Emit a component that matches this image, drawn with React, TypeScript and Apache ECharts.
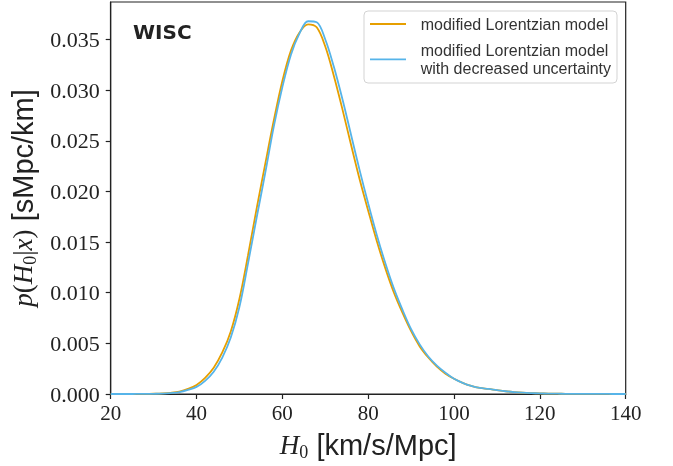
import React, { useEffect, useRef } from "react";
import * as echarts from "echarts";

const xValues = [
  20, 22, 24, 26, 28, 30, 32, 34, 36, 38, 40, 42, 44, 46, 48, 50, 52, 54, 56, 58,
  60, 62, 64, 66, 68, 70, 72, 74, 76, 78, 80, 82, 84, 86, 88, 90, 92, 94, 96, 98,
  100, 102, 104, 106, 108, 110, 112, 114, 116, 118, 120, 122, 124, 126, 128, 130,
  132, 134, 136, 138, 140,
];

const lorentzianValues = [
  0, 0, 0, 0.000005, 0.00001, 0.00003, 0.00006, 0.00012, 0.00024, 0.0005, 0.0009,
  0.0016, 0.0026, 0.0041, 0.0062, 0.0094, 0.0137, 0.0183, 0.0227, 0.027, 0.0309,
  0.0339, 0.0357, 0.0365, 0.0362, 0.0343, 0.0314, 0.0281, 0.0246, 0.0212, 0.0181,
  0.0151, 0.0124, 0.01, 0.008, 0.0062, 0.0047, 0.0036, 0.0027, 0.002, 0.0015,
  0.0011, 0.0008, 0.0006, 0.0005, 0.00038, 0.00027, 0.00019, 0.00013, 0.00009,
  0.00006, 0.00004, 0.00003, 0.00002, 0.000015, 0.00001, 0.000007, 0.000005,
  0.000003, 0.000002, 0.000001,
];

const decreasedValues = [
  0, 0, 0, 0.000003, 0.000006, 0.00002, 0.00004, 0.00009, 0.00018, 0.0004, 0.0007,
  0.0013, 0.0022, 0.0036, 0.0056, 0.0086, 0.0129, 0.0174, 0.0218, 0.0264, 0.0303,
  0.0335, 0.0356, 0.0368, 0.0367, 0.035, 0.0323, 0.0291, 0.0256, 0.0221, 0.0188,
  0.0157, 0.0129, 0.0104, 0.0083, 0.0064, 0.0049, 0.0037, 0.0028, 0.0021, 0.0015,
  0.0011, 0.0008, 0.0006, 0.0005, 0.00038, 0.00027, 0.00019, 0.00013, 0.00009,
  0.00006, 0.00004, 0.00003, 0.00002, 0.000015, 0.00001, 0.000007, 0.000005,
  0.000003, 0.000002, 0.000001,
];

const yTicks = [0, 0.005, 0.01, 0.015, 0.02, 0.025, 0.03, 0.035];
const xTicks = [20, 40, 60, 80, 100, 120, 140];

const seriesNames = [
  "modified Lorentzian model",
  "modified Lorentzian model\nwith decreased uncertainty",
];
const titleText = "WISC";

const ORANGE = "#E69F00";
const BLUE = "#56B4E9";
const AXIS = "#222";
const SERIF = '"Liberation Serif", "Times New Roman", serif';
const SANS = '"Liberation Sans", Arial, sans-serif';

export default function App() {
  const ref = useRef<HTMLDivElement>(null);

  useEffect(() => {
    if (!ref.current) return;
    const chart = echarts.init(ref.current, null, { renderer: "svg" });

    const mathRich = {
      i: { fontFamily: SERIF, fontStyle: "italic", fontSize: 27, color: AXIS, lineHeight: 32 },
      r: { fontFamily: SERIF, fontSize: 27, color: AXIS, lineHeight: 32 },
      sub: {
        fontFamily: SERIF,
        fontSize: 18,
        color: AXIS,
        lineHeight: 18,
        verticalAlign: "bottom",
      },
      s: { fontFamily: SANS, fontSize: 29, color: AXIS, lineHeight: 32 },
    };

    chart.setOption({
      animation: false,
      grid: {
        left: 110.7,
        right: 47.3,
        top: 2,
        bottom: 71.7,
        show: true,
        borderColor: AXIS,
        borderWidth: 1.2,
        backgroundColor: "transparent",
      },
      xAxis: {
        type: "value",
        min: xTicks[0],
        max: xTicks[xTicks.length - 1],
        interval: 20,
        axisLine: { show: true, lineStyle: { color: AXIS, width: 1.2 } },
        axisTick: { show: true, length: 5, lineStyle: { color: AXIS, width: 1.2 } },
        axisLabel: {
          fontFamily: SERIF,
          fontSize: 21,
          color: AXIS,
          margin: 8,
        },
        splitLine: { show: false },
        name: "{i|H}{sub|0}{s| [km/s/Mpc]}",
        nameLocation: "middle",
        nameGap: 35,
        nameTextStyle: { rich: mathRich },
      },
      yAxis: {
        type: "value",
        min: 0,
        max: 0.0387,
        interval: 0.005,
        axisLine: { show: true, lineStyle: { color: AXIS, width: 1.2 } },
        axisTick: {
          show: true,
          length: 5,
          lineStyle: { color: AXIS, width: 1.2 },
          customValues: yTicks,
        },
        axisLabel: {
          fontFamily: SERIF,
          fontSize: 22,
          color: AXIS,
          margin: 11,
          customValues: yTicks,
          formatter: (v: number) => v.toFixed(3),
        },
        splitLine: { show: false },
        name: "{i|p}{r|(}{i|H}{sub|0}{r||}{i|x}{r|)}{s| [sMpc/km]}",
        nameLocation: "middle",
        nameGap: 67,
        nameRotate: 90,
        nameTextStyle: { rich: mathRich },
      },
      series: [
        {
          name: seriesNames[0],
          type: "line",
          data: xValues.map((x, i) => [x, lorentzianValues[i]]),
          symbol: "none",
          showSymbol: false,
          smooth: 0.35,
          lineStyle: { color: ORANGE, width: 1.8 },
          itemStyle: { color: ORANGE },
          z: 2,
        },
        {
          name: seriesNames[1],
          type: "line",
          data: xValues.map((x, i) => [x, decreasedValues[i]]),
          symbol: "none",
          showSymbol: false,
          smooth: 0.35,
          lineStyle: { color: BLUE, width: 1.8 },
          itemStyle: { color: BLUE },
          z: 3,
        },
      ],
      graphic: [
        {
          type: "text",
          x: 133,
          y: 32,
          z: 100,
          style: {
            text: titleText,
            font: 'bold 20px "DejaVu Sans", sans-serif',
            fill: "#222",
            verticalAlign: "middle",
          },
        },
        {
          type: "rect",
          z: 100,
          shape: { x: 364, y: 11, width: 253, height: 72, r: 4 },
          style: { fill: "rgba(255,255,255,0.85)", stroke: "#d3d3d3", lineWidth: 1 },
        },
        {
          type: "line",
          z: 101,
          shape: { x1: 370, y1: 24, x2: 406, y2: 24 },
          style: { stroke: ORANGE, lineWidth: 1.8 },
        },
        {
          type: "text",
          x: 420.7,
          y: 24,
          z: 101,
          style: {
            text: seriesNames[0],
            font: `16px ${SANS}`,
            fill: "#333",
            verticalAlign: "middle",
          },
        },
        {
          type: "line",
          z: 101,
          shape: { x1: 370, y1: 59.3, x2: 406, y2: 59.3 },
          style: { stroke: BLUE, lineWidth: 1.8 },
        },
        {
          type: "text",
          x: 420.7,
          y: 59.3,
          z: 101,
          style: {
            text: seriesNames[1],
            font: `16px ${SANS}`,
            lineHeight: 18,
            fill: "#333",
            verticalAlign: "middle",
          },
        },
      ],
    });

    return () => chart.dispose();
  }, []);

  return (
    <div
      ref={ref}
      style={{ position: "fixed", left: 0, top: 0, width: 673, height: 466 }}
    />
  );
}
